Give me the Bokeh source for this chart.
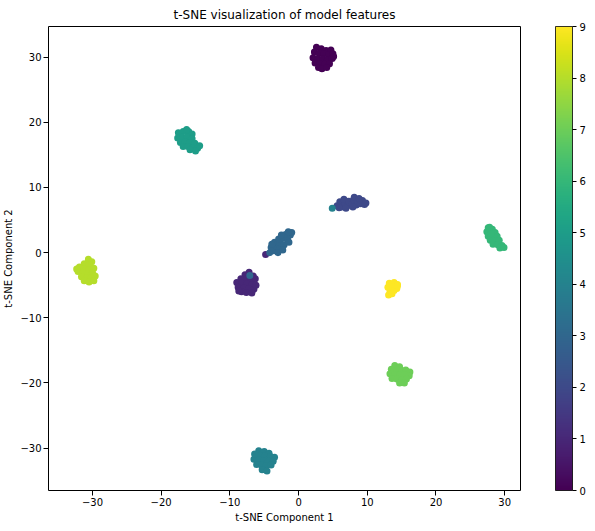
from bokeh.plotting import figure
from bokeh.models import ColumnDataSource, ColorBar, LinearColorMapper, FixedTicker, Range1d
from bokeh.palettes import Viridis256
from bokeh.embed import file_html
from bokeh.resources import INLINE

# ---- data ----
class0_x = [2.6, 3.3, 4.0, 4.7, 2.3, 3.0, 3.7, 4.4, 5.0, 2.1, 2.8, 3.5, 4.2, 4.9, 2.4, 3.1, 3.8, 4.5, 2.9, 3.4, 4.1, 5.1]
class0_y = [31.5, 31.3, 31.0, 31.1, 30.8, 30.6, 30.5, 30.4, 30.5, 29.9, 29.8, 29.7, 29.6, 29.8, 29.1, 29.0, 28.9, 29.0, 28.4, 28.2, 28.4, 30.1]

class1_x = [-7.8, -6.6, -8.4, -7.6, -6.9, -6.3, -9.0, -8.3, -7.5, -6.8, -8.8, -8.0, -7.3, -6.5, -8.3, -7.6, -6.8, -6.2, -7.2, -8.7, -4.8]
class1_y = [-3.4, -3.6, -4.0, -4.1, -4.2, -4.0, -4.6, -4.7, -4.8, -4.9, -5.3, -5.4, -5.5, -5.6, -6.0, -6.1, -6.2, -5.0, -3.0, -5.9, -0.3]

class2_x = [5.6, 6.0, 6.3, 6.7, 6.6, 7.1, 7.3, 7.7, 8.0, 8.1, 8.4, 8.6, 9.0, 9.3, 9.6, 9.8, 5.9, 7.9, 6.9, 8.8]
class2_y = [7.2, 7.8, 7.0, 7.6, 8.2, 7.2, 7.9, 7.4, 8.1, 8.5, 7.3, 7.9, 7.5, 8.0, 7.4, 7.6, 6.9, 7.0, 6.8, 8.3]

class3_x = [-4.2, -3.6, -4.0, -3.3, -2.8, -3.5, -2.7, -2.1, -2.9, -2.2, -1.6, -1.9, -1.2, -1.0, -1.5, -2.5, -3.0, -3.9, -2.3, -1.4, -7.1]
class3_y = [0.0, 0.3, 0.8, 1.0, 0.6, 1.6, 1.5, 1.2, 2.1, 2.2, 2.0, 2.8, 2.7, 3.1, 3.2, 2.7, 0.0, 1.3, 0.4, 1.6, -3.5]

class4_x = [-5.8, -5.0, -4.3, -6.3, -5.6, -4.9, -4.1, -3.5, -6.5, -5.8, -5.1, -4.4, -3.7, -6.1, -5.4, -4.7, -4.0, -5.3, -4.6, -6.4, 4.9]
class4_y = [-30.4, -30.5, -30.8, -31.0, -31.1, -31.2, -31.3, -31.4, -31.7, -31.8, -31.9, -32.0, -32.0, -32.5, -32.6, -32.7, -32.6, -33.3, -33.5, -30.9, 6.8]

class5_x = [-17.5, -16.8, -16.0, -15.5, -17.6, -16.9, -16.2, -15.5, -17.2, -16.5, -15.8, -15.1, -16.8, -16.1, -15.4, -14.7, -15.8, -15.0, -14.4, -16.3]
class5_y = [18.4, 18.6, 18.6, 18.2, 17.6, 17.7, 17.8, 17.5, 16.9, 17.0, 16.9, 16.8, 16.3, 16.3, 16.1, 16.0, 15.8, 15.6, 16.4, 18.9]

class6_x = [27.6, 28.2, 27.4, 28.0, 28.6, 27.6, 28.3, 28.9, 27.9, 28.6, 29.2, 28.3, 29.0, 29.6, 29.3, 29.9, 28.0, 27.8]
class6_y = [3.8, 3.6, 3.2, 3.0, 3.1, 2.5, 2.4, 2.5, 1.9, 1.8, 1.9, 1.3, 1.2, 1.1, 0.7, 0.8, 2.9, 3.9]

class7_x = [14.0, 14.7, 13.5, 14.3, 15.0, 15.6, 16.2, 13.3, 14.0, 14.7, 15.4, 16.1, 13.6, 14.3, 15.0, 15.7, 14.7, 15.4]
class7_y = [-17.3, -17.5, -17.9, -18.0, -18.1, -18.0, -18.3, -18.6, -18.7, -18.8, -18.7, -18.9, -19.3, -19.4, -19.5, -19.4, -20.0, -20.0]

class8_x = [-30.6, -30.1, -31.2, -30.5, -31.9, -31.2, -30.5, -29.8, -32.1, -31.4, -30.7, -30.0, -31.6, -30.9, -30.2, -29.6, -31.2, -30.5, -29.8, -32.3]
class8_y = [-1.0, -1.4, -1.7, -1.9, -2.2, -2.5, -2.6, -2.4, -2.9, -3.1, -3.3, -3.1, -3.7, -3.9, -3.8, -3.6, -4.3, -4.5, -4.3, -2.5]

class9_x = [13.2, 13.9, 14.4, 13.0, 13.7, 14.3, 13.3, 13.9, 13.1, 13.6, 14.4]
class9_y = [-4.7, -4.6, -4.9, -5.3, -5.2, -5.5, -5.9, -5.8, -6.5, -6.3, -5.1]

x_ticks = [-30, -20, -10, 0, 10, 20, 30]
y_ticks = [-30, -20, -10, 0, 10, 20, 30]
cbar_ticks = [0, 1, 2, 3, 4, 5, 6, 7, 8, 9]

all_x = [class0_x, class1_x, class2_x, class3_x, class4_x, class5_x, class6_x, class7_x, class8_x, class9_x]
all_y = [class0_y, class1_y, class2_y, class3_y, class4_y, class5_y, class6_y, class7_y, class8_y, class9_y]

xs, ys, labels = [], [], []
for lab, (cx, cy) in enumerate(zip(all_x, all_y)):
    xs += cx
    ys += cy
    labels += [lab] * len(cx)

source = ColumnDataSource(dict(x=xs, y=ys, label=labels))

FONT = "DejaVu Sans"

p = figure(
    frame_width=472, frame_height=464,
    x_range=Range1d(-36.4, 32.3), y_range=Range1d(-36.5, 34.7),
    output_backend="svg", toolbar_location=None,
    title="t-SNE visualization of model features",
    min_border_left=4, min_border_right=4, min_border_top=4, min_border_bottom=4,
)
p.title.align = "center"
p.title.text_font = FONT
p.title.text_font_size = "12px"
p.title.text_font_style = "normal"
p.title.text_color = "black"

mapper = LinearColorMapper(palette=Viridis256, low=0, high=9)
p.scatter("x", "y", source=source, size=7,
          fill_color={"field": "label", "transform": mapper},
          line_color={"field": "label", "transform": mapper}, line_width=0)

p.grid.visible = False
p.outline_line_color = "black"
p.outline_line_width = 1
p.background_fill_color = "white"

p.xaxis.ticker = FixedTicker(ticks=x_ticks)
p.yaxis.ticker = FixedTicker(ticks=y_ticks)
p.xaxis.axis_label = "t-SNE Component 1"
p.yaxis.axis_label = "t-SNE Component 2"
for ax in (p.xaxis, p.yaxis):
    ax.axis_line_color = None
    ax.minor_tick_line_color = None
    ax.major_tick_out = 5
    ax.major_tick_in = 0
    ax.major_tick_line_color = "black"
    ax.major_label_text_font = FONT
    ax.major_label_text_font_size = "10px"
    ax.major_label_text_color = "black"
    ax.axis_label_text_font = FONT
    ax.axis_label_text_font_size = "10px"
    ax.axis_label_text_font_style = "normal"
    ax.axis_label_text_color = "black"
    ax.major_label_standoff = 2
    ax.axis_label_standoff = 3

cb = ColorBar(
    color_mapper=mapper, ticker=FixedTicker(ticks=cbar_ticks),
    width=17, height="auto", padding=0, margin=0, location=(35, 0),
    major_tick_out=4, major_tick_in=0, major_tick_line_color="black",
    minor_tick_line_color=None,
    bar_line_color="black", bar_line_width=0.8,
    major_label_text_font=FONT, major_label_text_font_size="10px",
    major_label_text_color="black", label_standoff=3,
    background_fill_alpha=0, border_line_color=None,
)
p.add_layout(cb, "right")
p.min_border_right = 40

open("out.html", "w").write(file_html(p, INLINE))
